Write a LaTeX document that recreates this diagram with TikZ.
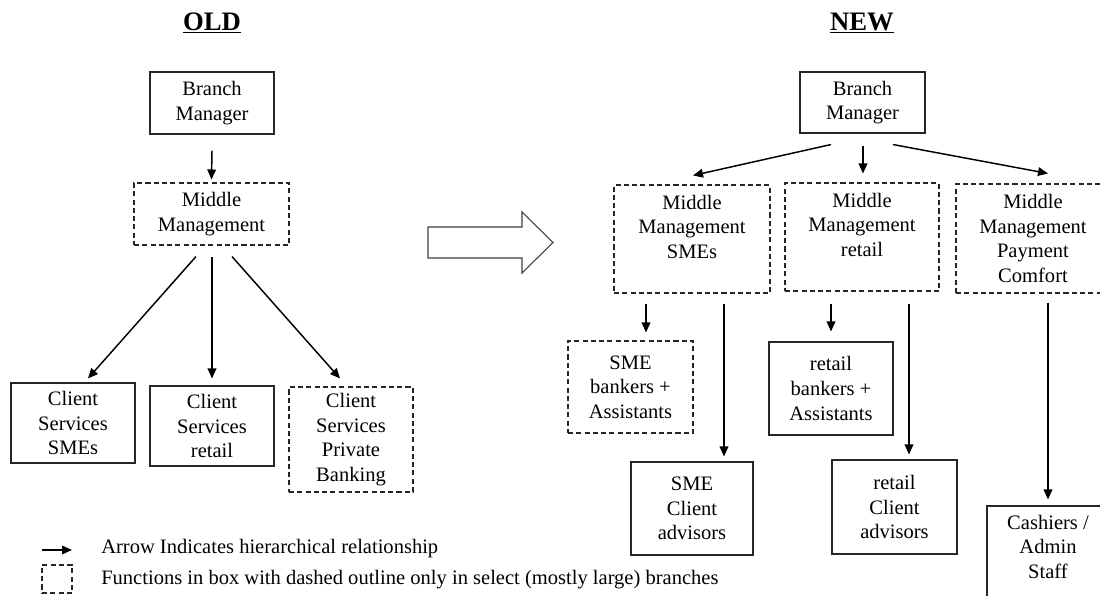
\documentclass[tikz,border=0pt]{standalone}
\usepackage{fontspec}
\setmainfont{Liberation Serif}
\usetikzlibrary{arrows.meta,calc}
\begin{document}
\begin{tikzpicture}[x=0.75pt,y=-0.75pt,
  every node/.style={font=\fontsize{15.4}{18.4}\selectfont, align=center, inner sep=0pt, text=black},
  sbox/.style={draw=black!85, line width=0.8pt},
  dbox/.style={draw=black!85, line width=0.8pt, dash pattern=on 3.8pt off 2.4pt},
  arr/.style={draw=black, line width=1.1pt, -{Triangle[length=7.5pt,width=6.5pt]}},
  title/.style={font=\fontsize{20}{24}\selectfont\bfseries},
  bigarrow/.style={draw=black!75, line width=0.8pt, fill=white}
]
\useasboundingbox (0,0) rectangle (1100,596);
\clip (0,0) rectangle (1100,596);

% titles
\node[title] (told) at (212,23) {\underline{OLD}};
\node[title] (tnew) at (862,23) {\underline{NEW}};

% OLD structure
\node[sbox, minimum width=124*0.75pt, minimum height=62*0.75pt] (obm) at (212,103) {Branch\\Manager};
\node[dbox, minimum width=155*0.75pt, minimum height=62*0.75pt] (omm) at (211.5,214) {Middle\\Management};
\node[sbox, minimum width=124*0.75pt, minimum height=80*0.75pt] (ocs1) at (73,423) {Client\\Services\\SMEs};
\node[sbox, minimum width=124*0.75pt, minimum height=80*0.75pt] (ocs2) at (212,426) {Client\\Services\\retail};
\node[dbox, minimum width=124*0.75pt, minimum height=105*0.75pt] (ocs3) at (351,439.5) {Client\\Services\\Private\\Banking};

\draw[arr] ($(obm.south)+(0,16)$) -- ($(omm.north)+(0,-3)$);
\draw[arr] ($(omm.south)+(-15.5,11)$) -- ($(ocs1.north)+(15,-4)$);
\draw[arr] ($(omm.south)+(0.5,11)$) -- ($(ocs2.north)+(0,-7)$);
\draw[arr] ($(omm.south)+(20.5,11)$) -- ($(ocs3.north)+(-11,-8)$);

% big transition arrow
\draw[bigarrow] (428,227) -- (522,227) -- (522,212) -- (553,242.5) -- (522,273) -- (522,258) -- (428,258) -- cycle;

% NEW structure
\node[sbox, minimum width=125*0.75pt, minimum height=61*0.75pt] (nbm) at (862.5,102.5) {Branch\\Manager};
\node[dbox, minimum width=156*0.75pt, minimum height=108*0.75pt] (nm1) at (692,239) {Middle\\Management\\SMEs\\\mbox{}};
\node[dbox, minimum width=154*0.75pt, minimum height=108*0.75pt] (nm2) at (862,237) {Middle\\Management\\retail\\\mbox{}};
\node[dbox, minimum width=154*0.75pt, minimum height=109*0.75pt] (nm3) at (1033,238.5) {Middle\\Management\\Payment\\Comfort};
\node[dbox, minimum width=125*0.75pt, minimum height=92*0.75pt] (nb1) at (630.5,387) {SME\\bankers +\\Assistants};
\node[sbox, minimum width=124*0.75pt, minimum height=93*0.75pt] (nb2) at (831,388.5) {retail\\bankers +\\Assistants};
\node[sbox, minimum width=122*0.75pt, minimum height=93*0.75pt] (nc1) at (692,508.5) {SME\\Client\\advisors};
\node[sbox, minimum width=125*0.75pt, minimum height=94*0.75pt] (nc2) at (894.5,507) {retail\\Client\\advisors};
\node[sbox, minimum width=122*0.75pt, minimum height=130*0.75pt] (ncash) at (1048,571) {Cashiers /\\Admin\\Staff\\\mbox{}\\\mbox{}};

\draw[arr] ($(nbm.south)+(-31.5,11)$) -- ($(nm1.north)+(1,-9)$);
\draw[arr] ($(nbm.south)+(0.5,12)$) -- ($(nm2.north)+(1,-9)$);
\draw[arr] ($(nbm.south)+(30.5,11)$) -- ($(nm3.north)+(15,-10)$);
\draw[arr] ($(nm1.south)+(-46,10)$) -- ($(nb1.north)+(15.5,-8)$);
\draw[arr] ($(nm1.south)+(32,10)$) -- ($(nc1.north)+(32,-5)$);
\draw[arr] ($(nm2.south)+(-31,12)$) -- ($(nb2.north)+(0,-10)$);
\draw[arr] ($(nm2.south)+(47,12)$) -- ($(nc2.north)+(14.5,-5)$);
\draw[arr] ($(nm3.south)+(15,9)$) -- ($(ncash.north)+(0,-6)$);

% legend
\coordinate (la1) at (42,550);
\coordinate (la2) at (72,550);
\draw[arr] (la1) -- (la2);
\node[dbox, minimum width=30*0.75pt, minimum height=28*0.75pt] (ldash) at (57,579) {};
\node[anchor=west] (ltext1) at (101,549) {Arrow Indicates hierarchical relationship};
\node[anchor=west] (ltext2) at (101,580) {Functions in box with dashed outline only in select (mostly large) branches};
\end{tikzpicture}
\end{document}
